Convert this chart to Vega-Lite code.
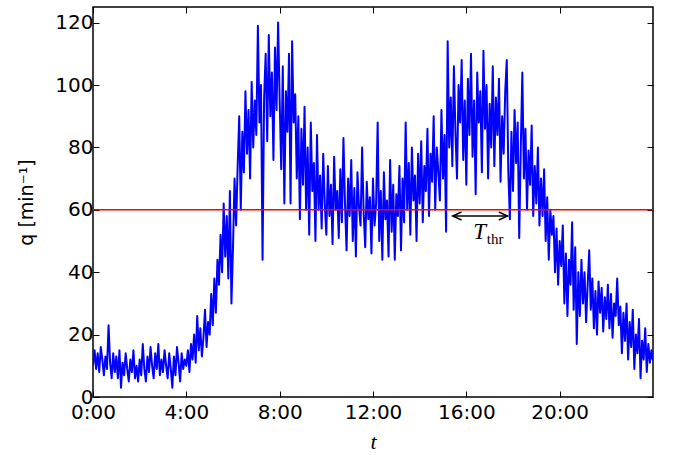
{
  "$schema": "https://vega.github.io/schema/vega-lite/v6.json",
  "width": 560,
  "height": 390,
  "autosize": {"type": "none"},
  "padding": {"left": 93, "top": 7, "right": 20, "bottom": 58},
  "background": "white",
  "config": {
    "view": {"stroke": "black", "strokeWidth": 1.5},
    "axis": {
      "domain": false,
      "grid": false,
      "tickColor": "black",
      "tickSize": -6,
      "tickWidth": 1,
      "labelFont": "DejaVu Sans",
      "labelFontSize": 20,
      "labelColor": "black",
      "labelPadding": 6,
      "labelFlush": false,
      "titleColor": "black"
    }
  },
  "datasets": {
    "flow": [
      {"t":0,"q":10},{"t":4,"q":15},{"t":8,"q":9},{"t":12,"q":14},{"t":16,"q":8},{"t":20,"q":16},{"t":24,"q":12},{"t":28,"q":7},{"t":32,"q":13},{"t":36,"q":9},{"t":40,"q":23},{"t":44,"q":11},{"t":48,"q":6},{"t":52,"q":14},{"t":56,"q":8},
      {"t":60,"q":13},{"t":64,"q":6},{"t":68,"q":15},{"t":72,"q":3},{"t":76,"q":11},{"t":80,"q":7},{"t":84,"q":14},{"t":88,"q":9},{"t":92,"q":5},{"t":96,"q":12},{"t":100,"q":8},{"t":104,"q":15},{"t":108,"q":6},{"t":112,"q":10},{"t":116,"q":5},
      {"t":120,"q":12},{"t":124,"q":7},{"t":128,"q":17},{"t":132,"q":9},{"t":136,"q":5},{"t":140,"q":13},{"t":144,"q":8},{"t":148,"q":16},{"t":152,"q":10},{"t":156,"q":6},{"t":160,"q":14},{"t":164,"q":9},{"t":168,"q":17},{"t":172,"q":7},{"t":176,"q":12},
      {"t":180,"q":8},{"t":184,"q":15},{"t":188,"q":10},{"t":192,"q":6},{"t":196,"q":14},{"t":200,"q":9},{"t":204,"q":3},{"t":208,"q":13},{"t":212,"q":7},{"t":216,"q":16},{"t":220,"q":11},{"t":224,"q":5},{"t":228,"q":14},{"t":232,"q":9},{"t":236,"q":12},
      {"t":240,"q":10},{"t":244,"q":15},{"t":248,"q":8},{"t":252,"q":17},{"t":256,"q":12},{"t":260,"q":20},{"t":264,"q":11},{"t":268,"q":26},{"t":272,"q":15},{"t":276,"q":22},{"t":280,"q":13},{"t":284,"q":19},{"t":288,"q":28},{"t":292,"q":16},{"t":296,"q":24},
      {"t":300,"q":20},{"t":304,"q":33},{"t":308,"q":23},{"t":312,"q":38},{"t":316,"q":27},{"t":320,"q":44},{"t":324,"q":36},{"t":328,"q":52},{"t":332,"q":40},{"t":336,"q":62},{"t":340,"q":45},{"t":344,"q":58},{"t":348,"q":38},{"t":352,"q":66},{"t":356,"q":30},
      {"t":360,"q":48},{"t":364,"q":70},{"t":368,"q":55},{"t":372,"q":74},{"t":376,"q":90},{"t":380,"q":60},{"t":384,"q":85},{"t":388,"q":72},{"t":392,"q":98},{"t":396,"q":78},{"t":400,"q":92},{"t":404,"q":70},{"t":408,"q":101},{"t":412,"q":80},{"t":416,"q":95},
      {"t":420,"q":84},{"t":424,"q":119},{"t":428,"q":88},{"t":432,"q":100},{"t":436,"q":44},{"t":440,"q":96},{"t":444,"q":110},{"t":448,"q":82},{"t":452,"q":116},{"t":456,"q":90},{"t":460,"q":104},{"t":464,"q":76},{"t":468,"q":112},{"t":472,"q":92},{"t":476,"q":120},
      {"t":480,"q":95},{"t":484,"q":73},{"t":488,"q":106},{"t":492,"q":62},{"t":496,"q":98},{"t":500,"q":85},{"t":504,"q":110},{"t":508,"q":62},{"t":512,"q":114},{"t":516,"q":88},{"t":520,"q":97},{"t":524,"q":70},{"t":528,"q":90},{"t":532,"q":57},{"t":536,"q":86},
      {"t":540,"q":68},{"t":544,"q":93},{"t":548,"q":60},{"t":552,"q":80},{"t":556,"q":52},{"t":560,"q":88},{"t":564,"q":66},{"t":568,"q":75},{"t":572,"q":50},{"t":576,"q":84},{"t":580,"q":60},{"t":584,"q":71},{"t":588,"q":54},{"t":592,"q":78},{"t":596,"q":62},
      {"t":600,"q":52},{"t":604,"q":74},{"t":608,"q":58},{"t":612,"q":68},{"t":616,"q":49},{"t":620,"q":77},{"t":624,"q":60},{"t":628,"q":66},{"t":632,"q":51},{"t":636,"q":73},{"t":640,"q":56},{"t":644,"q":83},{"t":648,"q":62},{"t":652,"q":47},{"t":656,"q":70},
      {"t":660,"q":58},{"t":664,"q":76},{"t":668,"q":50},{"t":672,"q":67},{"t":676,"q":45},{"t":680,"q":72},{"t":684,"q":61},{"t":688,"q":55},{"t":692,"q":80},{"t":696,"q":59},{"t":700,"q":48},{"t":704,"q":69},{"t":708,"q":57},{"t":712,"q":64},{"t":716,"q":46},
      {"t":720,"q":70},{"t":724,"q":55},{"t":728,"q":62},{"t":732,"q":88},{"t":736,"q":50},{"t":740,"q":66},{"t":744,"q":44},{"t":748,"q":72},{"t":752,"q":57},{"t":756,"q":63},{"t":760,"q":45},{"t":764,"q":76},{"t":768,"q":53},{"t":772,"q":68},{"t":776,"q":44},
      {"t":780,"q":65},{"t":784,"q":58},{"t":788,"q":74},{"t":792,"q":47},{"t":796,"q":70},{"t":800,"q":56},{"t":804,"q":88},{"t":808,"q":60},{"t":812,"q":75},{"t":816,"q":52},{"t":820,"q":80},{"t":824,"q":63},{"t":828,"q":71},{"t":832,"q":50},{"t":836,"q":78},
      {"t":840,"q":62},{"t":844,"q":82},{"t":848,"q":56},{"t":852,"q":74},{"t":856,"q":66},{"t":860,"q":86},{"t":864,"q":58},{"t":868,"q":78},{"t":872,"q":69},{"t":876,"q":90},{"t":880,"q":60},{"t":884,"q":80},{"t":888,"q":72},{"t":892,"q":63},{"t":896,"q":92},
      {"t":900,"q":70},{"t":904,"q":84},{"t":908,"q":53},{"t":912,"q":114},{"t":916,"q":80},{"t":920,"q":96},{"t":924,"q":74},{"t":928,"q":106},{"t":932,"q":85},{"t":936,"q":70},{"t":940,"q":100},{"t":944,"q":88},{"t":948,"q":108},{"t":952,"q":76},{"t":956,"q":95},
      {"t":960,"q":68},{"t":964,"q":102},{"t":968,"q":84},{"t":972,"q":110},{"t":976,"q":77},{"t":980,"q":95},{"t":984,"q":65},{"t":988,"q":104},{"t":992,"q":88},{"t":996,"q":98},{"t":1000,"q":72},{"t":1004,"q":111},{"t":1008,"q":86},{"t":1012,"q":100},{"t":1016,"q":70},
      {"t":1020,"q":94},{"t":1024,"q":80},{"t":1028,"q":106},{"t":1032,"q":74},{"t":1036,"q":96},{"t":1040,"q":84},{"t":1044,"q":102},{"t":1048,"q":69},{"t":1052,"q":90},{"t":1056,"q":78},{"t":1060,"q":98},{"t":1064,"q":108},{"t":1068,"q":72},{"t":1072,"q":57},{"t":1076,"q":85},
      {"t":1080,"q":66},{"t":1084,"q":92},{"t":1088,"q":75},{"t":1092,"q":88},{"t":1096,"q":51},{"t":1100,"q":80},{"t":1104,"q":104},{"t":1108,"q":70},{"t":1112,"q":86},{"t":1116,"q":60},{"t":1120,"q":79},{"t":1124,"q":68},{"t":1128,"q":87},{"t":1132,"q":58},{"t":1136,"q":74},
      {"t":1140,"q":62},{"t":1144,"q":80},{"t":1148,"q":55},{"t":1152,"q":70},{"t":1156,"q":58},{"t":1160,"q":73},{"t":1164,"q":50},{"t":1168,"q":64},{"t":1172,"q":44},{"t":1176,"q":60},{"t":1180,"q":52},{"t":1184,"q":58},{"t":1188,"q":40},{"t":1192,"q":54},{"t":1196,"q":36},
      {"t":1200,"q":50},{"t":1204,"q":42},{"t":1208,"q":55},{"t":1212,"q":30},{"t":1216,"q":46},{"t":1220,"q":26},{"t":1224,"q":44},{"t":1228,"q":36},{"t":1232,"q":56},{"t":1236,"q":28},{"t":1240,"q":48},{"t":1244,"q":17},{"t":1248,"q":40},{"t":1252,"q":26},{"t":1256,"q":44},
      {"t":1260,"q":30},{"t":1264,"q":40},{"t":1268,"q":24},{"t":1272,"q":36},{"t":1276,"q":47},{"t":1280,"q":28},{"t":1284,"q":38},{"t":1288,"q":22},{"t":1292,"q":34},{"t":1296,"q":20},{"t":1300,"q":37},{"t":1304,"q":27},{"t":1308,"q":35},{"t":1312,"q":21},{"t":1316,"q":32},
      {"t":1320,"q":25},{"t":1324,"q":36},{"t":1328,"q":22},{"t":1332,"q":33},{"t":1336,"q":19},{"t":1340,"q":30},{"t":1344,"q":26},{"t":1348,"q":38},{"t":1352,"q":23},{"t":1356,"q":29},{"t":1360,"q":14},{"t":1364,"q":27},{"t":1368,"q":18},{"t":1372,"q":30},{"t":1376,"q":12},
      {"t":1380,"q":24},{"t":1384,"q":16},{"t":1388,"q":28},{"t":1392,"q":9},{"t":1396,"q":20},{"t":1400,"q":14},{"t":1404,"q":25},{"t":1408,"q":6},{"t":1412,"q":18},{"t":1416,"q":12},{"t":1420,"q":22},{"t":1424,"q":8},{"t":1428,"q":17},{"t":1432,"q":11},{"t":1436,"q":15},{"t":1439,"q":12}
    ],
    "threshold": [{"q": 60}],
    "span": [{"t0": 925, "t1": 1066, "q": 58}],
    "heads": [{"t": 925, "q": 58, "dir": "left"}, {"t": 1066, "q": 58, "dir": "right"}],
    "symbol": [{"t": 994, "q": 53, "s": "T"}],
    "subscript": [{"t": 1034, "q": 50.5, "s": "thr"}]
  },
  "layer": [
    {
      "data": {"name": "flow"},
      "mark": {"type": "line", "color": "#0000ff", "strokeWidth": 2, "strokeJoin": "round", "clip": true},
      "encoding": {
        "x": {
          "field": "t", "type": "quantitative",
          "scale": {"domain": [0, 1440], "nice": false, "zero": false},
          "axis": {
            "orient": "bottom",
            "values": [0, 240, 480, 720, 960, 1200],
            "labelExpr": "floor(datum.value / 60) + ':00'",
            "labelPadding": 11,
            "title": "t",
            "titleFont": "Liberation Serif",
            "titleFontStyle": "italic",
            "titleFontWeight": "normal",
            "titleFontSize": 22,
            "titlePadding": 9
          }
        },
        "y": {
          "field": "q", "type": "quantitative",
          "scale": {"domain": [0, 125], "nice": false},
          "axis": {
            "orient": "left",
            "values": [0, 20, 40, 60, 80, 100, 120],
            "title": "q [min⁻¹]",
            "titleFont": "DejaVu Sans",
            "titleFontWeight": "normal",
            "titleFontSize": 19,
            "titlePadding": 18
          }
        }
      }
    },
    {
      "data": {"name": "threshold"},
      "mark": {"type": "rule", "color": "#ff0000", "strokeWidth": 1.6},
      "encoding": {
        "y": {"field": "q", "type": "quantitative", "axis": null}
      }
    },
    {
      "data": {"name": "span"},
      "mark": {"type": "rule", "color": "black", "strokeWidth": 1.5},
      "encoding": {
        "x": {
          "field": "t0", "type": "quantitative",
          "axis": {"orient": "top", "values": [0, 240, 480, 720, 960, 1200], "labels": false, "title": null}
        },
        "x2": {"field": "t1"},
        "y": {
          "field": "q", "type": "quantitative",
          "axis": {"orient": "right", "values": [0, 20, 40, 60, 80, 100, 120], "labels": false, "title": null}
        }
      }
    },
    {
      "data": {"name": "heads"},
      "mark": {"type": "point", "filled": false, "stroke": "black", "strokeWidth": 1.5, "size": 64, "opacity": 1},
      "encoding": {
        "x": {"field": "t", "type": "quantitative", "axis": null},
        "y": {"field": "q", "type": "quantitative", "axis": null},
        "shape": {
          "field": "dir", "type": "nominal", "legend": null,
          "scale": {"domain": ["left", "right"], "range": ["M 2.2 -1 L 0 0 L 2.2 1", "M -2.2 -1 L 0 0 L -2.2 1"]}
        }
      }
    },
    {
      "data": {"name": "symbol"},
      "mark": {"type": "text", "font": "Liberation Serif", "fontStyle": "italic", "fontSize": 23, "color": "black", "baseline": "middle", "align": "center"},
      "encoding": {
        "x": {"field": "t", "type": "quantitative", "axis": null},
        "y": {"field": "q", "type": "quantitative", "axis": null},
        "text": {"field": "s"}
      }
    },
    {
      "data": {"name": "subscript"},
      "mark": {"type": "text", "font": "Liberation Serif", "fontSize": 15, "color": "black", "baseline": "middle", "align": "center"},
      "encoding": {
        "x": {"field": "t", "type": "quantitative", "axis": null},
        "y": {"field": "q", "type": "quantitative", "axis": null},
        "text": {"field": "s"}
      }
    }
  ],
  "resolve": {"axis": {"x": "independent", "y": "independent"}}
}
